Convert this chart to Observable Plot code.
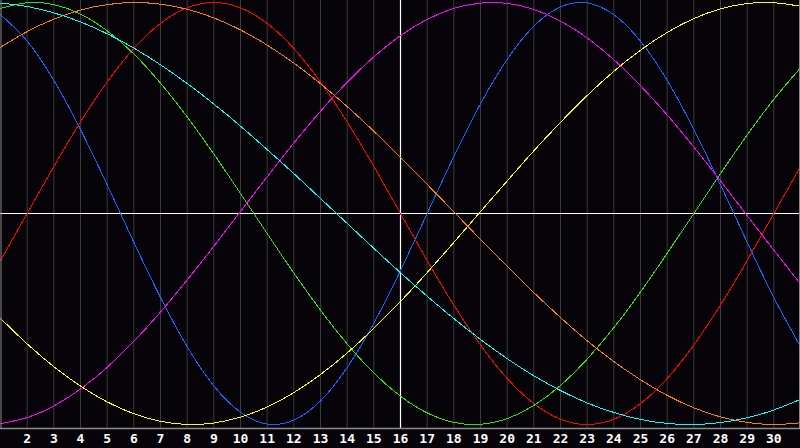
<!DOCTYPE html>
<html>
<head>
<meta charset="utf-8">
<script src="https://cdn.jsdelivr.net/npm/d3@7"></script>
<script src="https://cdn.jsdelivr.net/npm/@observablehq/plot@0.6"></script>
<style>
  html, body { margin: 0; padding: 0; background: #060408; }
  #chart svg { display: block; }
</style>
</head>
<body>
<div id="chart"></div>
<script>
const days = [1,2,3,4,5,6,7,8,9,10,11,12,13,14,15,16,17,18,19,20,21,22,23,24,25,26,27,28,29,30,31];
const tickDays = [2,3,4,5,6,7,8,9,10,11,12,13,14,15,16,17,18,19,20,21,22,23,24,25,26,27,28,29,30];

const physical = [0.942,0.817,0.631,0.398,0.136,-0.136,-0.398,-0.631,-0.817,-0.942,-0.998,-0.979,-0.888,-0.730,-0.520,-0.270,0,0.270,0.520,0.730,0.888,0.979,0.998,0.942,0.817,0.631,0.398,0.136,-0.136,-0.398,-0.631];
const emotional = [-0.223,0,0.223,0.434,0.623,0.782,0.901,0.975,1.0,0.975,0.901,0.782,0.623,0.434,0.223,0,-0.223,-0.434,-0.623,-0.782,-0.901,-0.975,-1.0,-0.975,-0.901,-0.782,-0.623,-0.434,-0.223,0,0.223];
const intellectual = [0.972,0.999,0.990,0.945,0.866,0.756,0.618,0.458,0.282,0.095,-0.095,-0.282,-0.458,-0.618,-0.756,-0.866,-0.945,-0.990,-0.999,-0.972,-0.910,-0.815,-0.690,-0.541,-0.372,-0.189,0,0.189,0.372,0.541,0.690];
const intuitive = [-0.996,-0.967,-0.912,-0.832,-0.729,-0.606,-0.467,-0.315,-0.155,0.010,0.174,0.334,0.485,0.622,0.742,0.843,0.920,0.972,0.997,0.996,0.967,0.912,0.832,0.729,0.606,0.467,0.315,0.155,-0.010,-0.174,-0.334];
const aesthetic = [-0.497,-0.618,-0.726,-0.818,-0.893,-0.949,-0.985,-1.000,-0.993,-0.965,-0.917,-0.849,-0.763,-0.661,-0.544,-0.417,-0.280,-0.137,0.009,0.154,0.297,0.432,0.559,0.674,0.774,0.858,0.924,0.970,0.995,0.999,0.982];
const awareness = [0.788,0.862,0.921,0.964,0.990,1.000,0.992,0.968,0.927,0.870,0.798,0.713,0.615,0.507,0.390,0.266,0.138,0.008,-0.123,-0.251,-0.375,-0.493,-0.603,-0.702,-0.788,-0.862,-0.921,-0.964,-0.990,-1.000,-0.992];
const spiritual = [0.997,0.981,0.951,0.908,0.852,0.784,0.705,0.616,0.519,0.414,0.303,0.189,0.071,-0.047,-0.165,-0.281,-0.392,-0.498,-0.597,-0.688,-0.769,-0.839,-0.898,-0.943,-0.976,-0.995,-1.000,-0.991,-0.968,-0.931,-0.881];

const seriesNames = ["Physical","Emotional","Intellectual","Intuitive","Aesthetic","Awareness","Spiritual"];
const seriesValues = [physical, emotional, intellectual, intuitive, aesthetic, awareness, spiritual];
const seriesColors = ["#1464ff","#ff0000","#2ee600","#ff00ff","#ffff00","#ff8000","#00ffff"];

const rows = [];
seriesNames.forEach((name, i) => {
  days.forEach((d, j) => rows.push({series: name, day: d, value: seriesValues[i][j]}));
});

const chart = Plot.plot({
  width: 800,
  height: 448,
  marginTop: 0,
  marginBottom: 20,
  marginLeft: 0,
  marginRight: 0,
  style: {background: "#060408", color: "#ffffff", fontFamily: "'DejaVu Sans Mono', monospace", fontSize: "13px", fontWeight: "bold"},
  x: {domain: [1, 31], range: [0, 800], ticks: tickDays, tickSize: 0, tickPadding: 5, tickFormat: d => String(d), label: null},
  y: {domain: [-1, 1], range: [424, 2], axis: null},
  color: {domain: seriesNames, range: seriesColors},
  marks: [
    Plot.ruleX(tickDays, {stroke: "#3c3c3c", strokeWidth: 1}),
    Plot.ruleY([0], {stroke: "#ffffff", strokeWidth: 1.2}),
    Plot.ruleX([16], {stroke: "#ffffff", strokeWidth: 1.2}),
    Plot.line(rows, {x: "day", y: "value", z: "series", stroke: "series", strokeWidth: 1, curve: "natural", shapeRendering: "crispEdges"}),
    Plot.ruleX([1], {stroke: "#8a8a8a", dx: 0.5}),
    Plot.ruleX([31], {stroke: "#8a8a8a", dx: -1}),
    Plot.ruleY([-1], {stroke: "#8a8a8a", strokeWidth: 1.5, dy: 4})
  ]
});
document.getElementById("chart").appendChild(chart);
</script>
</body>
</html>
